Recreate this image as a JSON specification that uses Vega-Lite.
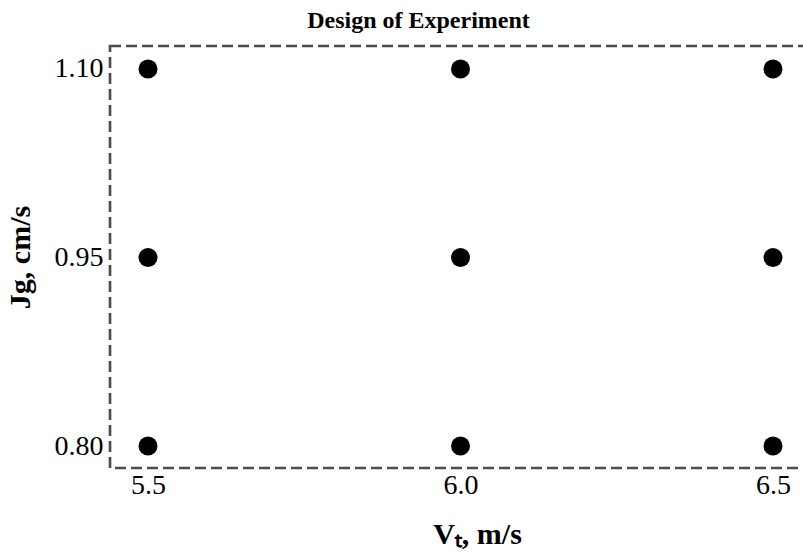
{
  "$schema": "https://vega.github.io/schema/vega-lite/v6.json",
  "width": 701,
  "height": 422,
  "autosize": {"type": "none"},
  "padding": {"left": 110, "top": 46, "right": 0, "bottom": 84},
  "background": "white",
  "title": {
    "text": "Design of Experiment",
    "font": "Liberation Serif",
    "fontSize": 24,
    "fontWeight": "bold",
    "color": "black",
    "anchor": "middle",
    "dx": -42,
    "dy": 26,
    "baseline": "alphabetic",
    "offset": 20
  },
  "config": {
    "view": {"stroke": "#4d4d4d", "strokeWidth": 2.7, "strokeDash": [11, 5]},
    "axis": {
      "domain": false,
      "ticks": false,
      "tickSize": 0,
      "grid": false,
      "labelFont": "Liberation Serif",
      "labelFontSize": 28,
      "labelColor": "black",
      "titleFont": "Liberation Serif",
      "titleFontSize": 30,
      "titleFontWeight": "bold",
      "titleColor": "black"
    }
  },
  "data": {
    "values": [
      {"Vt": 5.5, "Jg": 0.80}, {"Vt": 5.5, "Jg": 0.95}, {"Vt": 5.5, "Jg": 1.10},
      {"Vt": 6.0, "Jg": 0.80}, {"Vt": 6.0, "Jg": 0.95}, {"Vt": 6.0, "Jg": 1.10},
      {"Vt": 6.5, "Jg": 0.80}, {"Vt": 6.5, "Jg": 0.95}, {"Vt": 6.5, "Jg": 1.10}
    ]
  },
  "mark": {"type": "point", "filled": true, "size": 360, "color": "black", "opacity": 1},
  "encoding": {
    "x": {
      "field": "Vt", "type": "quantitative",
      "scale": {"domain": [5.4392, 6.5608], "nice": false, "zero": false},
      "axis": {"values": [5.5, 6.0, 6.5], "format": ".1f", "labelPadding": 3, "title": "Vₜ, m/s", "titlePadding": 20, "titleX": 367}
    },
    "y": {
      "field": "Jg", "type": "quantitative",
      "scale": {"domain": [0.7825, 1.1183], "nice": false, "zero": false},
      "axis": {"values": [0.8, 0.95, 1.1], "format": ".2f", "labelPadding": 7, "title": "Jg, cm/s", "titlePadding": 19}
    }
  }
}
